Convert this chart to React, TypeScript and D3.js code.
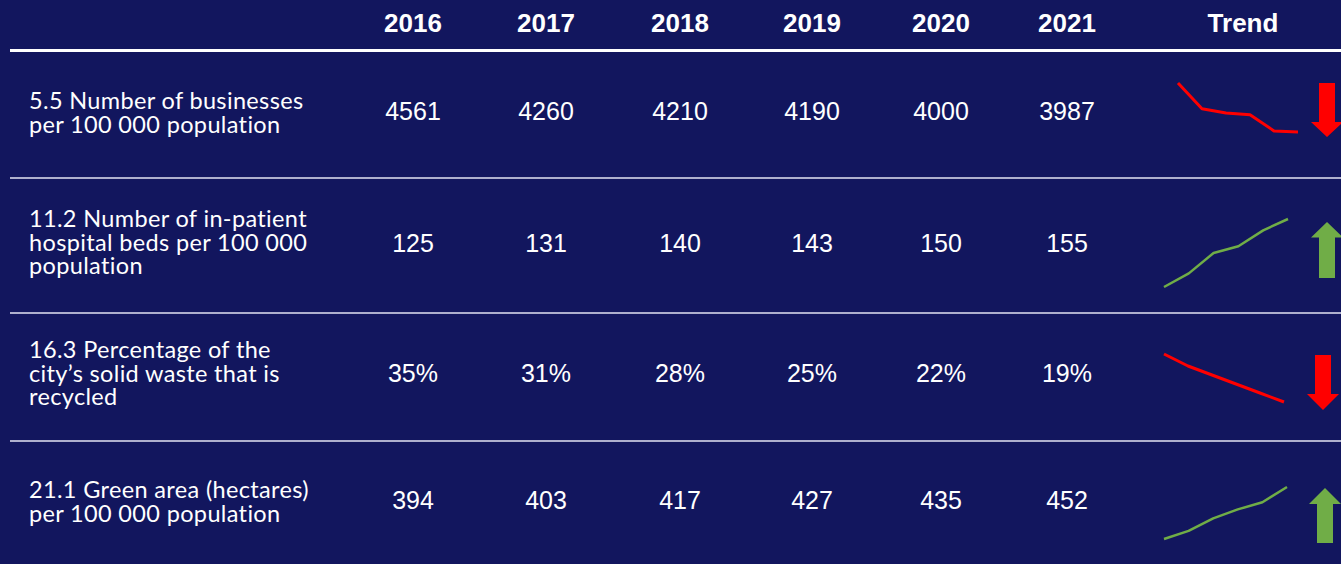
import React from "react";
import * as d3 from "d3";

// ---------- data ----------
const years = ["2016", "2017", "2018", "2019", "2020", "2021"];
const trendLabel = "Trend";
const indicatorLabels: string[][] = [
  ["5.5 Number of businesses", "per 100 000 population"],
  ["11.2 Number of in-patient", "hospital beds per 100 000", "population"],
  ["16.3 Percentage of the", "city\u2019s solid waste that is", "recycled"],
  ["21.1 Green area (hectares)", "per 100 000 population"],
];
const businesses = [4561, 4260, 4210, 4190, 4000, 3987];
const hospitalBeds = [125, 131, 140, 143, 150, 155];
const wasteRecycledPct = [35, 31, 28, 25, 22, 19];
const greenArea = [394, 403, 417, 427, 435, 452];
const valueSuffix = ["", "", "%", ""];
const series = [businesses, hospitalBeds, wasteRecycledPct, greenArea];

// ---------- layout ----------
const W = 1341;
const H = 564;
const BG = "#12165E";
const RED = "#FF0000";
const GREEN = "#70AD47";

const colX = d3
  .scaleOrdinal<string, number>()
  .domain([...years, trendLabel])
  .range([413, 546, 680, 812, 941, 1067, 1243]);

const rowLines = [178, 313, 441];
const valueBaseline = [120, 252, 382, 509];
const labelBaseline = [109, 227, 358, 498];
const labelLineH = 23.5;
const sparkBox = [
  { x0: 1178, x1: 1298, yMin: 132, yMax: 83 },
  { x0: 1164, x1: 1288, yMin: 287, yMax: 219 },
  { x0: 1164, x1: 1284, yMin: 402, yMax: 354 },
  { x0: 1164, x1: 1287, yMin: 539, yMax: 487 },
];
const arrowBox = [
  { cx: 1327, y0: 83, y1: 137, head: 15 },
  { cx: 1327, y0: 222, y1: 278, head: 15.5 },
  { cx: 1323, y0: 355, y1: 410, head: 16 },
  { cx: 1325, y0: 488, y1: 543, head: 16 },
];

function arrowPath(cx: number, y0: number, y1: number, head: number, up: boolean) {
  const sw = 8;
  const hw = 16;
  if (up) {
    return `M${cx},${y0} L${cx + hw},${y0 + head} L${cx + sw},${y0 + head} L${cx + sw},${y1} L${cx - sw},${y1} L${cx - sw},${y0 + head} L${cx - hw},${y0 + head} Z`;
  }
  return `M${cx},${y1} L${cx + hw},${y1 - head} L${cx + sw},${y1 - head} L${cx + sw},${y0} L${cx - sw},${y0} L${cx - sw},${y1 - head} L${cx - hw},${y1 - head} Z`;
}

export default function App() {
  return (
    <svg
      width={W}
      height={H}
      style={{ position: "fixed", left: 0, top: 0, display: "block" }}
    >
      <rect x={0} y={0} width={W} height={H} fill={BG} />
      {/* header */}
      {[...years, trendLabel].map((y) => (
        <text
          key={y}
          x={colX(y)}
          y={32}
          textAnchor="middle"
          fill="#fff"
          fontFamily="'Liberation Sans', Arial, sans-serif"
          fontWeight="bold"
          fontSize={26}
        >
          {y}
        </text>
      ))}
      <line x1={10} x2={W} y1={50.5} y2={50.5} stroke="#fff" strokeWidth={3} />
      {rowLines.map((y) => (
        <line key={y} x1={10} x2={W} y1={y} y2={y} stroke="#E4E4F4" strokeWidth={1.5} />
      ))}
      {series.map((vals, i) => {
        const box = sparkBox[i];
        const x = d3.scaleLinear().domain([0, vals.length - 1]).range([box.x0, box.x1]);
        const ext = d3.extent(vals) as [number, number];
        const y = d3.scaleLinear().domain(ext).range([box.yMin, box.yMax]);
        const up = vals[vals.length - 1] > vals[0];
        const color = up ? GREEN : RED;
        const line = d3
          .line<number>()
          .x((_, j) => x(j))
          .y((d) => y(d));
        const a = arrowBox[i];
        return (
          <g key={i}>
            {indicatorLabels[i].map((t, k) => (
              <text
                key={k}
                x={29}
                y={labelBaseline[i] + k * labelLineH}
                fill="#fff"
                fontFamily="Lato, 'Open Sans', sans-serif"
                fontSize={23.5}
                letterSpacing={0.35}
              >
                {t}
              </text>
            ))}
            {vals.map((v, j) => (
              <text
                key={j}
                x={colX(years[j])}
                y={valueBaseline[i]}
                textAnchor="middle"
                fill="#fff"
                fontFamily="'Liberation Sans', Arial, sans-serif"
                fontSize={25}
              >
                {v + valueSuffix[i]}
              </text>
            ))}
            <path
              d={line(vals) || ""}
              fill="none"
              stroke={color}
              strokeWidth={up ? 2.5 : 3}
              strokeLinejoin="round"
            />
            <path d={arrowPath(a.cx, a.y0, a.y1, a.head, up)} fill={color} />
          </g>
        );
      })}
    </svg>
  );
}
